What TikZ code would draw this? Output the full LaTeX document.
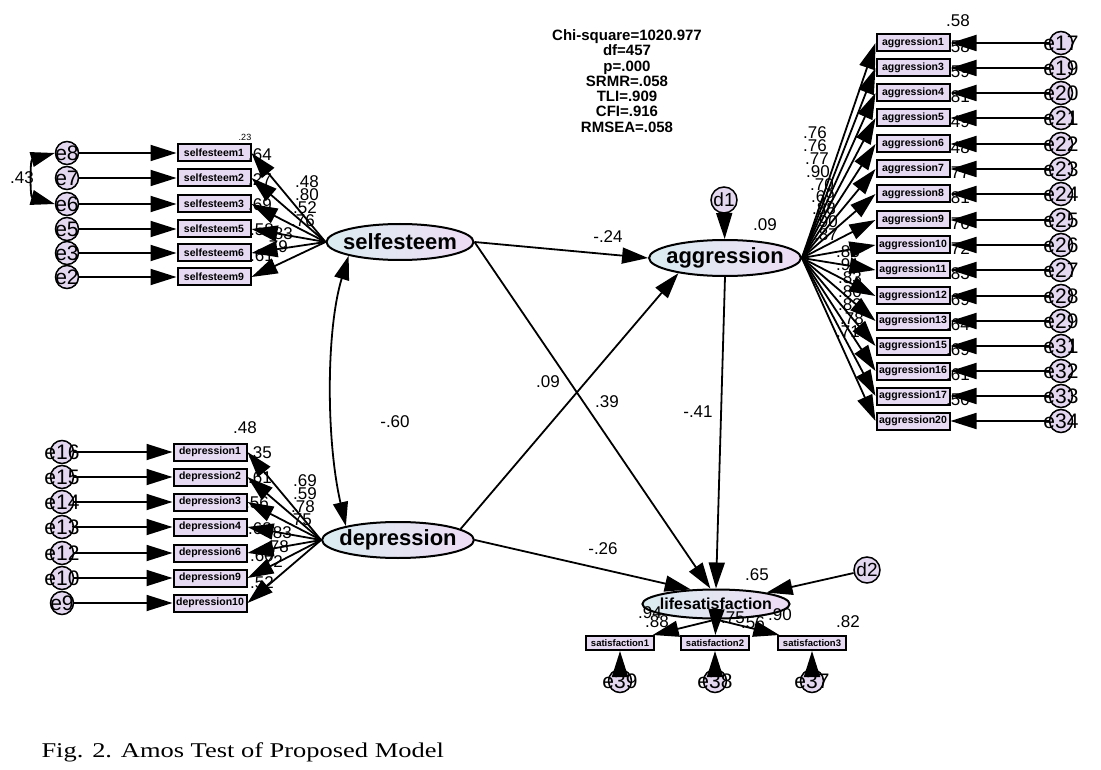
\documentclass[tikz,border=0pt]{standalone}
\usepackage{fontspec}
\setmainfont{Liberation Sans}
\newfontfamily\capfont{Liberation Serif}
\usetikzlibrary{shapes.geometric, arrows.meta, positioning}

\definecolor{boxfill}{RGB}{230,218,242}
\definecolor{errfill}{RGB}{228,216,240}
\definecolor{latleft}{RGB}{218,236,240}
\definecolor{latright}{RGB}{238,220,244}

\tikzset{
  latent/.style={ellipse, draw, line width=2pt, left color=latleft, right color=latright,
    font=\bfseries\fontsize{22}{24}\selectfont, inner xsep=-5pt, inner ysep=0pt,
    minimum width=147pt, minimum height=36pt},
  obs/.style={draw, line width=2pt, fill=boxfill, font=\bfseries\fontsize{10.5}{11}\selectfont,
    inner sep=1pt, minimum width=73pt, minimum height=17pt},
  satbox/.style={obs, font=\bfseries\fontsize{9.5}{10}\selectfont, minimum width=68pt, minimum height=14pt},
  err/.style={circle, draw, line width=1.5pt, fill=errfill, minimum size=23pt, inner sep=0pt},
  errtxt/.style={font=\fontsize{21}{21}\selectfont, inner sep=0pt},
  coef/.style={font=\fontsize{17}{17}\selectfont, inner sep=0pt},
  load/.style={-{Triangle[length=26pt,width=16pt]}, line width=1.8pt},
  cov/.style={{Triangle[length=24pt,width=15pt]}-{Triangle[length=24pt,width=15pt]}, line width=1.8pt},
}

\begin{document}
\begin{tikzpicture}[x=1pt, y=-1pt]
\useasboundingbox (0,0) rectangle (1101,770);

% latent variables
\node[latent] (selfesteem) at (400,242) {selfesteem};
\node[latent] (aggression) at (725,258) {aggression};
\node[latent] (depression) at (398,540) {depression};
\node[latent, font=\bfseries\fontsize{16}{18}\selectfont, inner xsep=-4pt, minimum width=141pt, minimum height=29pt] (lifesat) at (716,604) {lifesatisfaction};
\node[err, minimum size=26pt, label={[errtxt, font=\fontsize{19}{19}\selectfont]center:d1}] (d1) at (724,200) {};
\node[err, minimum size=26pt, label={[errtxt, font=\fontsize{19}{19}\selectfont]center:d2}] (d2) at (867,570) {};

% fit indices
\node[font=\bfseries\fontsize{15}{15.3}\selectfont, align=center] (fit) at (627,81)
  {Chi-square=1020.977\\df=457\\p=.000\\SRMR=.058\\TLI=.909\\CFI=.916\\RMSEA=.058};

% indicators and errors
\foreach \i/\y/\e in {1/153/8, 2/178/7, 3/204/6, 5/229/5, 6/253/3, 9/277/2} {
  \node[obs] (se\i) at (214,\y) {selfesteem\i};
  \node[err, label={[errtxt]center:e\e}] (e\e) at (67,\y) {};
}
\foreach \i/\y/\e in {1/452/16, 2/477/15, 3/502/14, 4/527/13, 6/553/12, 9/578/10, 10/603/9} {
  \node[obs] (dep\i) at (210,\y) {depression\i};
  \node[err, label={[errtxt]center:e\e}] (e\e) at (62,\y) {};
}
\foreach \i/\y/\e in {1/43/17, 3/68/19, 4/93/20, 5/118/21, 6/144/22, 7/169/23, 8/194/24, 9/220/25,
    10/245/26, 11/270/27, 12/296/28, 13/321/29, 15/346/31, 16/371/32, 17/396/33, 20/421/34} {
  \node[obs] (ag\i) at (913,\y) {aggression\i};
  \node[err, label={[errtxt]center:e\e}] (e\e) at (1061,\y) {};
}
\foreach \i/\x/\e in {1/620/39, 2/715/38, 3/812/37} {
  \node[satbox] (sat\i) at (\x,643) {satisfaction\i};
  \node[err, label={[errtxt]center:e\e}] (e\e) at (\x,681) {};
}

% estimates
\node[coef, font=\fontsize{9}{9}\selectfont] (r2se1) at (245,137) {.23};
\foreach \v/\x/\y in {.64/260/155, .27/260/180, .69/260/205, .58/262/230, .61/262/256,
    .48/307/182, .80/307/195, .52/305/208, .76/303/221, .83/281/234, .79/276/247}
  \node[coef] at (\x,\y) {\v};
\foreach \v/\x/\y in {.48/245/428, .35/260/453, .61/260/478, .56/257/503, .68/260/529, .60/262/556, .52/262/583,
    .69/305/481, .59/305/494, .78/303/507, .75/300/520, .83/280/533, .78/277/547, .72/271/562}
  \node[coef] at (\x,\y) {\v};
\foreach \v/\x/\y in {.76/815/133, .76/815/146, .77/817/159, .90/818/172, .70/822/185, .69/823/197,
    .88/824/209, .90/826/222, .87/826/235, .85/848/252, .91/848/265, .83/850/278, .80/850/292,
    .83/850/305, .78/852/319, .71/848/332}
  \node[coef] at (\x,\y) {\v};
\foreach \v/\x/\y in {.58/958/21, .58/958/47, .59/958/72, .81/958/97, .49/958/122, .48/958/148,
    .77/958/173, .81/958/198, .76/958/224, .72/958/249, .83/958/274, .69/958/300, .64/958/325,
    .69/958/350, .61/958/375, .50/958/400}
  \node[coef] at (\x,\y) {\v};
\foreach \v/\x/\y in {.94/650/613, .88/657/622, .75/733/618, .56/753/623, .90/780/615, .82/848/622,
    .65/757/575, .09/765/225, -.24/608/237, .39/607/402, .09/548/382, -.26/603/549, -.41/698/412,
    -.60/395/422, .43/22/178}
  \node[coef] at (\x,\y) {\v};

% loadings and error paths
\foreach \i/\e in {1/8, 2/7, 3/6, 5/5, 6/3, 9/2} {
  \draw[load] (selfesteem.west) -- (se\i.east);
  \draw[load] (e\e) -- (se\i);
}
\foreach \i/\e in {1/16, 2/15, 3/14, 4/13, 6/12, 9/10, 10/9} {
  \draw[load] (depression.west) -- (dep\i.east);
  \draw[load] (e\e) -- (dep\i);
}
\foreach \i/\e in {1/17, 3/19, 4/20, 5/21, 6/22, 7/23, 8/24, 9/25, 10/26, 11/27, 12/28, 13/29,
    15/31, 16/32, 17/33, 20/34} {
  \draw[load] (aggression.east) -- (ag\i.west);
  \draw[load] (e\e) -- (ag\i);
}
\foreach \i/\e in {1/39, 2/38, 3/37} {
  \draw[load] (lifesat.south) -- (sat\i);
  \draw[load] (e\e) -- (sat\i);
}

% structural paths
\draw[load] (selfesteem.east) -- (aggression.west);
\draw[load] (selfesteem.east) -- (lifesat.110);
\draw[load] (depression.10) -- (aggression.198);
\draw[load] (depression.east) -- (lifesat.150);
\draw[load] (aggression.south) -- (lifesat.north);
\draw[load] (d1) -- (aggression);
\draw[load] (d2) -- (lifesat);
\draw[cov] (selfesteem.195) .. controls (326,330) and (326,440) .. (depression.165);
\draw[cov] (e8.west) .. controls (30,160) and (30,197) .. (e6.west);

% caption
\node[anchor=west, font=\capfont\fontsize{21}{21}\selectfont] (caption) at (38,752)
  {\scalebox{1.26}[1]{Fig. 2. Amos Test of Proposed Model}};
\end{tikzpicture}
\end{document}
